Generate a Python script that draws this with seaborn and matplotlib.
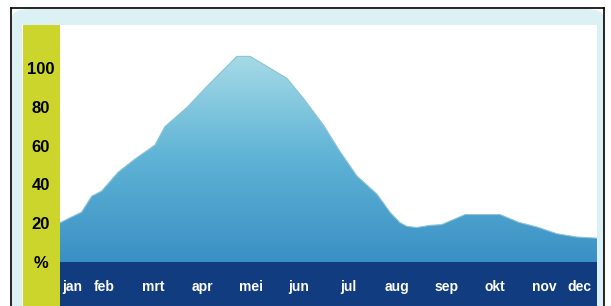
import numpy as np
import matplotlib
matplotlib.use("Agg")
import matplotlib.pyplot as plt
import seaborn as sns
from matplotlib.colors import LinearSegmentedColormap
from matplotlib.patches import Rectangle, FancyBboxPatch
from matplotlib.lines import Line2D

# curve (x in months, jan = 1)
month_x = [1.10, 1.31, 1.54, 1.75, 1.95, 2.29, 2.63, 3.04, 3.24, 3.71, 4.06,
           4.71, 4.98, 5.32, 5.73, 6.07, 6.48, 6.82, 7.16, 7.57, 7.84, 8.04,
           8.18, 8.38, 8.65, 8.89, 9.13, 9.37, 10.08, 10.46, 10.83, 11.24,
           11.65, 12.06]
pct = [20.2, 22.9, 25.7, 34.0, 36.6, 46.4, 53.1, 60.4, 69.8, 80.2, 89.6,
       106.1, 106.1, 101.0, 94.8, 84.4, 70.5, 56.8, 44.4, 35.0, 25.5, 20.3,
       18.4, 17.8, 18.9, 19.3, 21.9, 24.5, 24.5, 20.5, 18.1, 14.6,
       12.9, 12.3]

months = ["jan", "feb", "mrt", "apr", "mei", "jun", "jul", "aug", "sep",
          "okt", "nov", "dec"]
month_label_x = [1.35, 2.0, 3.0, 4.0, 5.0, 5.98, 6.98, 7.98, 8.98, 9.98,
                 10.98, 11.71]
y_ticks = [0, 20, 40, 60, 80, 100]
y_labels = ["%", "20", "40", "60", "80", "100"]

W, H = 611, 306
fig = plt.figure(figsize=(W / 100, H / 100), dpi=100)
fig.patch.set_facecolor("white")
font = ["Liberation Sans Narrow", "Liberation Sans", "DejaVu Sans"]


def box(x0, y0, x1, y1):
    return (x0 / W, 1 - y1 / H, (x1 - x0) / W, (y1 - y0) / H)


# frame and background panels (kept below the axes)
l, b, w, h = box(12, 9, 604, 320)
fig.add_artist(FancyBboxPatch((l, b), w, h, boxstyle="round,pad=0,rounding_size=0.03",
                              transform=fig.transFigure, fc="#dcf1f3", ec="none", zorder=-3))
l, b, w, h = box(22, 25, 597, 310)
fig.add_artist(Rectangle((l, b), w, h, transform=fig.transFigure, fc="white", ec="none", zorder=-2))
l, b, w, h = box(23, 25, 60, 310)
fig.add_artist(Rectangle((l, b), w, h, transform=fig.transFigure, fc="#cbd52c", ec="none", zorder=-1))
for xs, ys in [([11, 11], [8, 306]), ([11, 604], [8, 8]), ([604, 604], [8, 306])]:
    fig.add_artist(Line2D([v / W for v in xs], [1 - v / H for v in ys],
                          transform=fig.transFigure, color="black", lw=1.2, zorder=5))

ax = fig.add_axes(box(60, 25, 597, 306))
ax.set_facecolor("none")
ax.set_xlim(1.10, 12.06)
ax.set_ylim(-22.7, 122.3)

# dark band with month names
ax.axhspan(-22.7, 0, color="#123c80", zorder=1)
for m, xm in zip(months, month_label_x):
    ax.text(xm, -13, m, color="white", fontsize=10, fontweight="bold",
            family=font, ha="center", va="center", zorder=5)

# gradient area
poly = ax.fill_between(month_x, 0, pct, color="none", lw=0)
cmap = LinearSegmentedColormap.from_list("sea", ["#3a90c4", "#5fb3d6", "#a8dce7"])
grad = np.linspace(0, 1, 256).reshape(-1, 1)
im = ax.imshow(grad, extent=[1.10, 12.06, 0, 108], origin="lower",
               aspect="auto", cmap=cmap, zorder=2)
im.set_clip_path(poly.get_paths()[0], transform=ax.transData)
sns.lineplot(x=month_x, y=pct, ax=ax, color="#8cc3d8", lw=0.8, zorder=3)

ax.set_yticks(y_ticks)
ax.set_yticklabels(y_labels)
ax.tick_params(axis="y", length=0, pad=14)
for t in ax.get_yticklabels():
    t.set_ha("center")
    t.set_fontweight("bold")
    t.set_fontsize(12)
    t.set_family(font)
ax.set_xticks([])
for s in ax.spines.values():
    s.set_visible(False)

fig.savefig("out.png", dpi=100)
